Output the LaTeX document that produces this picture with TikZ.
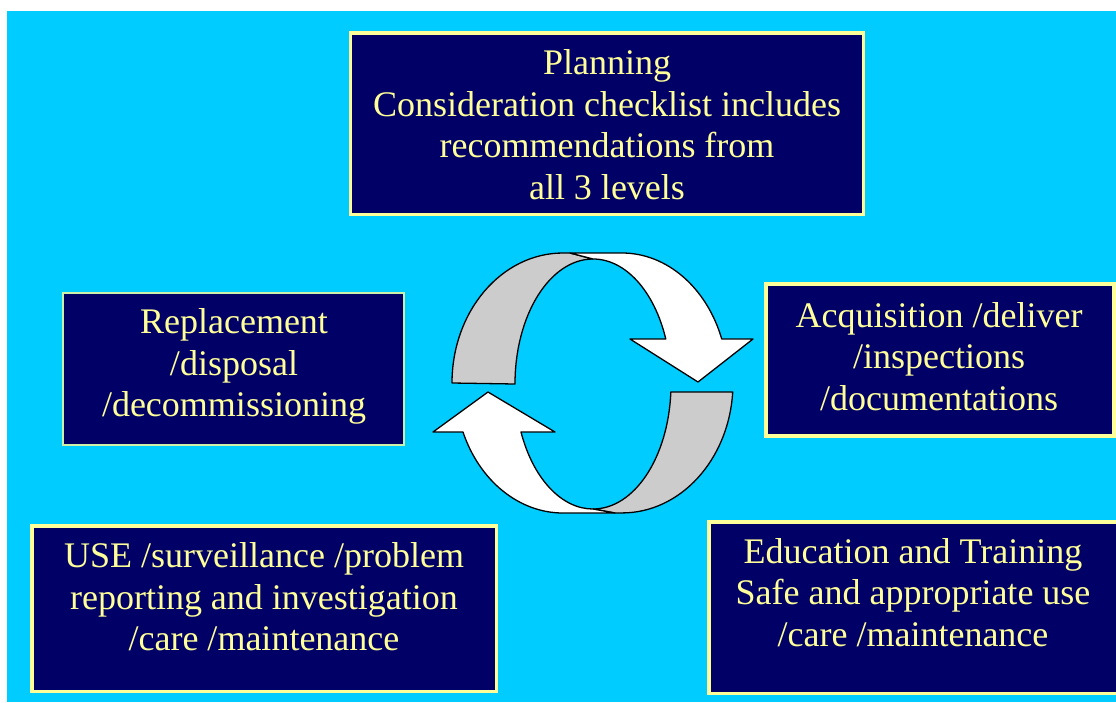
\documentclass[tikz,border=0pt]{standalone}
\usepackage{fontspec}
\setmainfont{Liberation Serif}
\definecolor{navy}{HTML}{000066}
\definecolor{bgcyan}{HTML}{00CCFF}
\definecolor{textyellow}{HTML}{FFFF99}
\definecolor{boxline}{HTML}{FFFF99}
\definecolor{replline}{HTML}{CCF0A8}
\definecolor{ribbongray}{HTML}{CCCCCC}
\begin{document}
\begin{tikzpicture}[x=1pt,y=-1pt,
  box/.style={draw=boxline, line width=3.5pt, fill=navy, inner sep=0pt},
  txt/.style={text=textyellow, align=center, font=\fontsize{36}{41.5}\selectfont, inner sep=0pt},
  ribbon/.style={draw=black, line width=1.3pt, line join=round},
]
\useasboundingbox (0,0) rectangle (1116,702);
\fill[white] (0,0) rectangle (1116,702);
\fill[bgcyan] (7,11) rectangle (1116,702);

% boxes
\node[box, minimum width=513pt, minimum height=181.5pt] (planbox) at (606.75,123.5) {};
\node[box, draw=replline, line width=2pt, minimum width=341pt, minimum height=152pt] (replbox) at (233.5,369) {};
\node[box, line width=4pt, minimum width=348pt, minimum height=152pt] (acqbox) at (940,360) {};
\node[box, minimum width=464.5pt, minimum height=165.5pt] (usebox) at (264,608.5) {};
\node[box, minimum width=410.5pt, minimum height=171.5pt] (edubox) at (914,607.5) {};

% texts
\node[txt] (plantxt) at (607,124.5) {Planning\\Consideration checklist includes\\recommendations from\\all 3 levels};
\node[txt] (repltxt) at (234,366.5) {Replacement\\/disposal\\/decommissioning};
\node[txt] (acqtxt) at (939,356.5) {Acquisition /deliver\\/inspections\\/documentations};
\node[txt] (usetxt) at (264,597) {USE /surveillance /problem\\reporting and investigation\\/care /maintenance};
\node[txt] (edutxt) at (913,592.5) {Education and Training\\Safe and appropriate use\\/care /maintenance};

% circular ribbon arrows
\filldraw[ribbon, fill=ribbongray] (452,383) arc[start angle=180, end angle=270, x radius=111, y radius=130] -- (570,253) -- (593,259) arc[start angle=270, end angle=180, x radius=78, y radius=125] -- cycle;
\filldraw[ribbon, fill=white] (570,253) -- (622,253) arc[start angle=270, end angle=340.2, x radius=106, y radius=130] -- (753,339) -- (698,382) -- (630,339) -- (665.8,339) arc[start angle=338.9, end angle=270, x radius=78, y radius=125] -- cycle;
\filldraw[ribbon, fill=ribbongray] (593,509) arc[start angle=90, end angle=3.67, x radius=78, y radius=125] -- (732.7,392) arc[start angle=4, end angle=90, x radius=111, y radius=130] -- (615,513) -- cycle;
\filldraw[ribbon, fill=white] (615,513) -- (563,513) arc[start angle=90, end angle=157.85, x radius=108, y radius=130] -- (433,432) -- (488,392) -- (555,432) -- (521,432) arc[start angle=157.42, end angle=90, x radius=78, y radius=125] -- cycle;
\end{tikzpicture}
\end{document}
